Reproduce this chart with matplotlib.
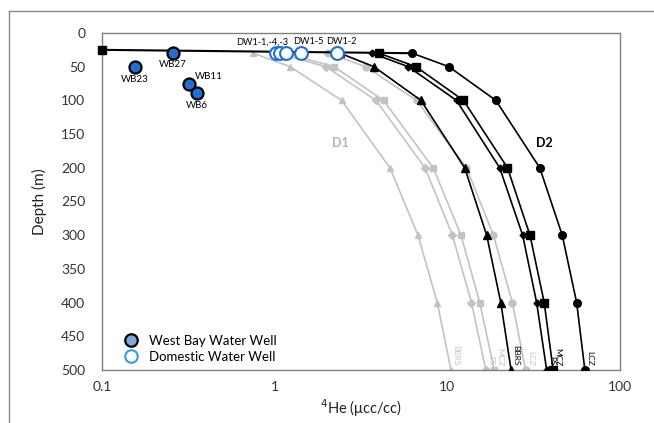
import numpy as np
import matplotlib
matplotlib.use("Agg")
import matplotlib.pyplot as plt
from matplotlib.lines import Line2D

plt.rcParams['font.family'] = ['Lato', 'DejaVu Sans']

# profundidades dos perfis modelados
depth = [30, 50, 100, 200, 300, 400, 500]

# D1 (cinza)
d1_bbrs = [0.75, 1.23, 2.44, 4.65, 6.76, 8.74, 10.5]
d1_ps = [1.04, 1.98, 3.86, 7.42, 10.7, 13.8, 16.7]
d1_mcz = [1.15, 2.21, 4.27, 8.28, 12.0, 15.4, 18.7]
d1_lcz = [2.04, 3.36, 6.64, 12.9, 18.5, 23.8, 28.4]

# D2 (preto)
d2_bbrs = [2.39, 3.76, 7.03, 12.6, 16.9, 20.4, 23.4]
d2_ps = [3.66, 5.94, 11.3, 20.1, 27.3, 32.9, 37.6]
d2_mcz = [4.02, 6.58, 12.4, 22.3, 30.1, 36.4, 41.0]
d2_lcz = [6.26, 10.2, 19.1, 34.3, 46.3, 56.1, 62.6]

# linha de superficie
surf_he = [0.1, 6.26]
surf_depth = [25, 30]

# pocos West Bay
wb_names = ['WB23', 'WB27', 'WB11', 'WB6']
wb_he = [0.155, 0.257, 0.32, 0.353]
wb_depth = [50, 29, 75, 89]

# pocos domesticos
dw_he = [1.02, 1.07, 1.16, 1.42, 2.30]
dw_depth = [30, 30, 30, 30, 30]
dw_names = ['DW1-1,-4,-3', 'DW1-5', 'DW1-2']
dw_label_he = [0.85, 1.56, 2.42]

cinza = '#c3c3c3'
azul = '#1f6fd6'

fig = plt.figure(figsize=(6.54, 4.23), dpi=100)
ax = fig.add_axes([0.156, 0.1253, 0.792, 0.7967])

# perfis D1
perfis_d1 = [(d1_bbrs, '^', 'BBRS'), (d1_ps, 'D', 'PS'), (d1_mcz, 's', 'MCZ'), (d1_lcz, 'o', 'LCZ')]
for vals, mk, nome in perfis_d1:
    ms = 4 if mk == 'D' else 5
    ax.plot(vals, depth, color=cinza, lw=1.2, marker=mk, ms=ms, zorder=2)
    ax.text(vals[-1] * 1.02, 494, nome, rotation=-90, fontsize=6, color=cinza,
            ha='left', va='bottom', zorder=3)

# perfis D2
perfis_d2 = [(d2_bbrs, '^', 'BBRS'), (d2_ps, 'D', 'PS'), (d2_mcz, 's', 'MCZ'), (d2_lcz, 'o', 'LCZ')]
for vals, mk, nome in perfis_d2:
    ms = 3.5 if mk == 'D' else 5.5
    ax.plot(vals, depth, color='black', lw=1.2, marker=mk, ms=ms, zorder=4)
    ax.text(vals[-1] * 1.02, 494, nome, rotation=-90, fontsize=6, color='black',
            ha='left', va='bottom', zorder=5)

ax.plot(surf_he, surf_depth, color='black', lw=1.5, zorder=4)
ax.plot(surf_he[0], surf_depth[0], marker='s', color='black', ms=5.5, zorder=5, clip_on=False)

ax.text(2.39, 163, 'D1', color='#b5b5b5', fontsize=9, fontweight='bold', ha='center', va='center')
ax.text(36.7, 163, 'D2', color='black', fontsize=9, fontweight='bold', ha='center', va='center')

# pocos
ax.scatter(wb_he, wb_depth, s=75, c=azul, edgecolors='black', linewidths=1.6, zorder=7)
ax.scatter(dw_he, dw_depth, s=85, c='white', edgecolors=azul, linewidths=1.5, zorder=7)

wb_off = {'WB23': (1.0, 19, 'center'), 'WB27': (1.0, 18, 'center'),
          'WB11': (1.08, -11, 'left'), 'WB6': (1.0, 19, 'center')}
for nome, x, y in zip(wb_names, wb_he, wb_depth):
    fx, dy, ha = wb_off[nome]
    ax.text(x * fx, y + dy, nome, fontsize=7, ha=ha, va='center', zorder=8)

for nome, x in zip(dw_names, dw_label_he):
    ax.text(x, 13, nome, fontsize=6.6, ha='center', va='center', zorder=8)

ax.set_xscale('log')
ax.set_xlim(0.1, 100)
ax.set_ylim(500, 0)
ax.set_yticks(np.arange(0, 501, 50))
ax.set_xticks([0.1, 1, 10, 100])
ax.set_xticklabels(['0.1', '1', '10', '100'])
ax.minorticks_off()
ax.tick_params(axis='both', labelsize=10, colors='#333333', length=0, pad=8)
ax.tick_params(axis='y', pad=12)
for s in ax.spines.values():
    s.set_color('#808080')
    s.set_linewidth(1.0)

ax.set_ylabel('Depth (m)', fontsize=11, color='#222222', labelpad=10)
ax.set_xlabel('$^{4}$He (\u03bccc/cc)', fontsize=10.5, color='#222222', labelpad=3)

leg_handles = [
    Line2D([], [], marker='o', ls='', ms=9, markerfacecolor='#7fa8dc',
           markeredgecolor='black', markeredgewidth=1.6, label='West Bay Water Well'),
    Line2D([], [], marker='o', ls='', ms=9, markerfacecolor='white',
           markeredgecolor='#2a9fe0', markeredgewidth=1.5, label='Domestic Water Well'),
]
ax.legend(handles=leg_handles, loc='lower left', frameon=False, fontsize=9.5,
          handletextpad=0.4, labelspacing=0.3, borderaxespad=0.0,
          bbox_to_anchor=(0.02, 0.005))

# moldura externa
fig.add_artist(Line2D([9 / 654, 1], [1 - 11 / 423, 1 - 11 / 423], color='#888888', lw=1.0))
fig.add_artist(Line2D([9 / 654, 9 / 654], [0, 1 - 11 / 423], color='#888888', lw=1.0))

fig.savefig('out.png', dpi=100)
